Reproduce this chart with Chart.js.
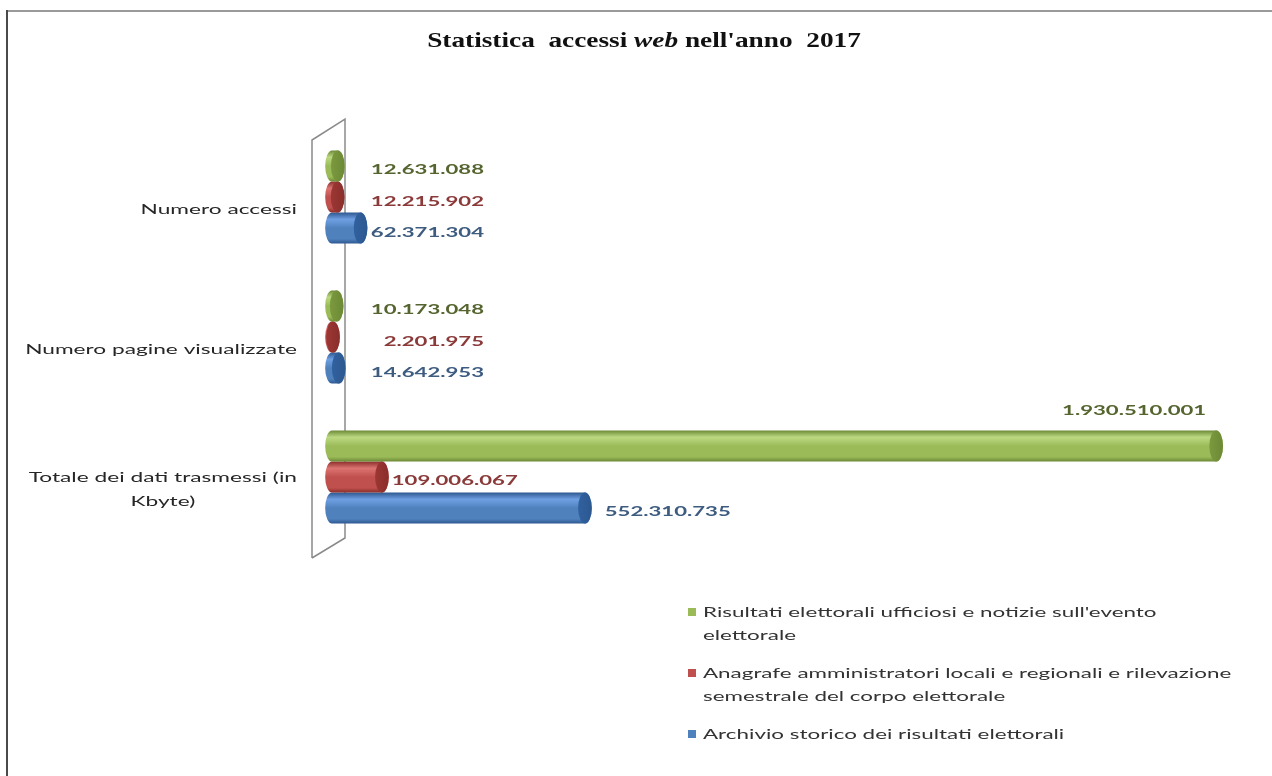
<!DOCTYPE html>
<html>
<head>
<meta charset="utf-8">
<script src="https://cdn.jsdelivr.net/npm/chart.js@4.4.0/dist/chart.umd.min.js"></script>
<style>
  html, body { margin: 0; padding: 0; background: #fff; }
  #wrap { width: 1272px; height: 776px; }
</style>
</head>
<body>
<div id="wrap"><canvas id="chart" width="1272" height="776"></canvas></div>
<script>
// categories (multi-line labels as arrays)
var categories = [
    ["Numero accessi"],
    ["Numero pagine visualizzate"],
    ["Totale dei dati trasmessi (in", "Kbyte)"]
];

// series values, one array per series
var risultatiUfficiosi = [12631088, 10173048, 1930510001];
var anagrafeAmministratori = [12215902, 2201975, 109006067];
var archivioStorico = [62371304, 14642953, 552310735];

var seriesNames = [
    ["Risultati elettorali ufficiosi e notizie sull'evento", "elettorale"],
    ["Anagrafe amministratori locali e regionali e rilevazione", "semestrale del corpo elettorale"],
    ["Archivio storico dei risultati elettorali"]
];

var xMax = 2000000000;

// colours for each series: body, highlight, edge, end cap, label text
var shades = [
    { main: "#9bbb59", light: "#bcd982", dark: "#6c8935", cap: "#7b9a3e", text: "#56652f" },
    { main: "#c0504d", light: "#dc7471", dark: "#8a2e2b", cap: "#9c3734", text: "#8b3a3a" },
    { main: "#4f81bd", light: "#6f9fe2", dark: "#2d5890", cap: "#30619f", text: "#3e5c80" }
];

var textStretch = 1.62;
var legendStretch = 1.6;
var valueStretch = 1.58;
var titleStretch = 1.3;
var capRatio = 0.22;

function fmt(v) {
    return String(v).replace(/\B(?=(\d{3})+(?!\d))/g, ".");
}

// draws text squeezed wider horizontally
function wideText(ctx, text, x, y, align, sx) {
    ctx.save();
    ctx.translate(x, y);
    ctx.scale(sx, 1);
    ctx.textAlign = align;
    ctx.fillText(text, 0, 0);
    ctx.restore();
}

function drawCylinder(ctx, bar, col) {
    var h = bar.height;
    var r = h / 2;
    var rx = h * capRatio;
    var cy = bar.y;
    var y0 = cy - r;
    var x0 = Math.min(bar.base, bar.x);
    var x1 = Math.max(bar.base, bar.x);

    var g = ctx.createLinearGradient(0, y0, 0, y0 + h);
    g.addColorStop(0, col.dark);
    g.addColorStop(0.22, col.light);
    g.addColorStop(0.5, col.main);
    g.addColorStop(0.85, col.main);
    g.addColorStop(1, col.dark);

    ctx.save();
    ctx.beginPath();
    ctx.moveTo(x0, y0);
    ctx.lineTo(x1, y0);
    ctx.ellipse(x1, cy, rx, r, 0, -Math.PI / 2, Math.PI / 2, false);
    ctx.lineTo(x0, y0 + h);
    ctx.ellipse(x0, cy, rx, r, 0, Math.PI / 2, Math.PI * 1.5, false);
    ctx.closePath();
    ctx.fillStyle = g;
    ctx.fill();

    // end face
    var cg = ctx.createLinearGradient(x1 - rx, 0, x1 + rx, 0);
    cg.addColorStop(0, col.cap);
    cg.addColorStop(1, col.dark);
    ctx.beginPath();
    ctx.ellipse(x1, cy, rx, r, 0, 0, Math.PI * 2);
    ctx.fillStyle = cg;
    ctx.fill();
    ctx.restore();
}

// the 3D side wall behind the bars
function drawWall(chart) {
    var ctx = chart.ctx, area = chart.chartArea;
    var base = chart.scales.x.getPixelForValue(0);
    ctx.save();
    ctx.strokeStyle = "#8a8a8a";
    ctx.lineWidth = 1.5;
    ctx.beginPath();
    ctx.moveTo(base - 20, area.bottom + 11);
    ctx.lineTo(base - 20, area.top + 13);
    ctx.lineTo(base + 13, area.top - 8);
    ctx.lineTo(base + 13, area.bottom - 9);
    ctx.lineTo(base - 20, area.bottom + 11);
    ctx.stroke();
    ctx.restore();
}

function drawValues(chart) {
    var ctx = chart.ctx, area = chart.chartArea;
    var base = chart.scales.x.getPixelForValue(0);
    ctx.save();
    ctx.font = "bold 14px Lato";
    ctx.textBaseline = "middle";
    chart.data.datasets.forEach(function (ds, i) {
        var meta = chart.getDatasetMeta(i);
        meta.data.forEach(function (bar, j) {
            var txt = fmt(ds.data[j]);
            var rx = bar.height * capRatio;
            var w = ctx.measureText(txt).width * valueStretch;
            ctx.fillStyle = shades[i].text;
            if (bar.x - base < 40) {
                // short bars: labels lined up in a column
                wideText(ctx, txt, base + 152, bar.y + 4, "right", valueStretch);
            } else if (bar.x + rx + 14 + w > area.right) {
                // longest bar: label sits above its end
                wideText(ctx, txt, bar.x - 10, bar.y - bar.height / 2 - 20, "right", valueStretch);
            } else {
                wideText(ctx, txt, bar.x + rx + 3 + (i - 1) * 10, bar.y + 3, "left", valueStretch);
            }
        });
    });
    ctx.restore();
}

function drawCategoryLabels(chart) {
    var ctx = chart.ctx;
    var yScale = chart.scales.y;
    var right = chart.scales.x.getPixelForValue(0) - 35;
    ctx.save();
    ctx.font = "14px Lato";
    ctx.fillStyle = "#262626";
    ctx.textBaseline = "middle";
    categories.forEach(function (lines, j) {
        var maxW = 0;
        lines.forEach(function (s) { maxW = Math.max(maxW, ctx.measureText(s).width * textStretch); });
        var cx = right - maxW / 2;
        var cy = yScale.getPixelForValue(j) + 12;
        var lh = 24;
        var top = cy - (lines.length - 1) * lh / 2;
        lines.forEach(function (s, k) {
            wideText(ctx, s, cx, top + k * lh, "center", textStretch);
        });
    });
    ctx.restore();
}

function drawTitle(chart) {
    var ctx = chart.ctx;
    var parts = [
        { t: "Statistica  accessi ", f: "bold 21px 'Liberation Serif'" },
        { t: "web", f: "italic bold 21px 'Liberation Serif'" },
        { t: " nell'anno  2017", f: "bold 21px 'Liberation Serif'" }
    ];
    ctx.save();
    ctx.fillStyle = "#111";
    ctx.textBaseline = "middle";
    var total = 0;
    parts.forEach(function (p) { ctx.font = p.f; p.w = ctx.measureText(p.t).width * titleStretch; total += p.w; });
    var x = chart.width / 2 + 8 - total / 2;
    parts.forEach(function (p) {
        ctx.font = p.f;
        wideText(ctx, p.t, x, 42, "left", titleStretch);
        x += p.w;
    });
    ctx.restore();
}

function drawLegend(chart) {
    var ctx = chart.ctx;
    var x = 688, y = 612, lh = 23;
    ctx.save();
    ctx.font = "14px Lato";
    ctx.textBaseline = "middle";
    seriesNames.forEach(function (lines, i) {
        ctx.fillStyle = shades[i].main;
        ctx.fillRect(x, y - 4, 8, 8);
        ctx.fillStyle = "#333";
        lines.forEach(function (s, k) {
            wideText(ctx, s, x + 15, y + k * lh, "left", legendStretch);
        });
        y += lines.length * lh + 15;
    });
    ctx.restore();
}

function drawFrame(chart) {
    var ctx = chart.ctx;
    ctx.save();
    ctx.lineWidth = 2;
    ctx.strokeStyle = "#9a9a9a";
    ctx.beginPath();
    ctx.moveTo(7, 11);
    ctx.lineTo(chart.width, 11);
    ctx.stroke();
    ctx.strokeStyle = "#4a4a4a";
    ctx.beginPath();
    ctx.moveTo(7, 10);
    ctx.lineTo(7, chart.height);
    ctx.stroke();
    ctx.restore();
}

var cylinders = {
    id: "cylinders",
    beforeDraw: function (chart) {
        var ctx = chart.ctx;
        ctx.save();
        ctx.fillStyle = "#fff";
        ctx.fillRect(0, 0, chart.width, chart.height);
        ctx.restore();
        drawFrame(chart);
    },
    beforeDatasetsDraw: function (chart) {
        drawWall(chart);
    },
    beforeDatasetDraw: function (chart, args) {
        var col = shades[args.index];
        args.meta.data.forEach(function (bar) {
            drawCylinder(chart.ctx, bar, col);
        });
        return false;
    },
    afterDatasetsDraw: function (chart) {
        drawValues(chart);
    },
    afterDraw: function (chart) {
        drawTitle(chart);
        drawCategoryLabels(chart);
        drawLegend(chart);
    }
};

var ctx = document.getElementById("chart").getContext("2d");
var chart = new Chart(ctx, {
    type: "bar",
    data: {
        labels: categories,
        datasets: [
            { label: seriesNames[0].join(" "), data: risultatiUfficiosi, backgroundColor: shades[0].main },
            { label: seriesNames[1].join(" "), data: anagrafeAmministratori, backgroundColor: shades[1].main },
            { label: seriesNames[2].join(" "), data: archivioStorico, backgroundColor: shades[2].main }
        ]
    },
    options: {
        indexAxis: "y",
        responsive: false,
        animation: false,
        layout: { padding: { left: 332, right: 24, top: 127, bottom: 229 } },
        categoryPercentage: 0.665,
        barPercentage: 1,
        scales: {
            x: { display: false, min: 0, max: xMax },
            y: { display: false }
        },
        plugins: {
            legend: { display: false },
            tooltip: { enabled: false },
            title: { display: false }
        }
    },
    plugins: [cylinders]
});
</script>
</body>
</html>
